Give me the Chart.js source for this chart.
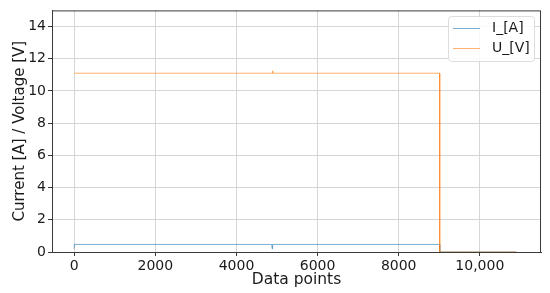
<!DOCTYPE html>
<html>
<head>
<meta charset="utf-8">
<script src="https://cdn.jsdelivr.net/npm/chart.js@4/dist/chart.umd.min.js"></script>
<style>
  html, body { margin: 0; padding: 0; background: #fff; }
  #wrap { width: 550px; height: 293px; }
</style>
</head>
<body>
<div id="wrap"><canvas id="myChart" width="550" height="293"></canvas></div>
<script>
// values
const currentX = [0, 1, 4870, 4880, 4890, 9010, 9011, 10900];
const currentY = [0.2, 0.47, 0.47, 0.2, 0.47, 0.47, 0, 0];
const voltageX = [0, 4880, 4890, 4900, 9010, 9011, 10900];
const voltageY = [11.1, 11.1, 11.25, 11.1, 11.1, 0, 0];

const xTickValues = [0, 2000, 4000, 6000, 8000, 10000];
const xTickLabels = ['0', '2000', '4000', '6000', '8000', '10,000'];
const yTickValues = [0, 2, 4, 6, 8, 10, 12, 14];
const seriesLabels = ['I_[A]', 'U_[V]'];

const FONT = "'DejaVu Sans', sans-serif";

function toPoints(xs, ys) {
    return xs.map((x, i) => ({ x: x, y: ys[i] }));
}

// draws the box around the plot area and the legend in the top right corner
const frameAndLegend = {
    id: 'frameAndLegend',
    afterDraw(chart) {
        const ctx = chart.ctx;
        const a = chart.chartArea;
        ctx.save();
        ctx.strokeStyle = '#3a3a3a';
        ctx.lineWidth = 1;
        ctx.strokeRect(a.left + 0.5, a.top + 0.5, a.right - a.left - 1, a.bottom - a.top);

        const boxX = 448, boxY = 16, boxW = 86, boxH = 45;
        ctx.fillStyle = 'rgba(255,255,255,0.85)';
        ctx.strokeStyle = '#dddddd';
        ctx.beginPath();
        ctx.roundRect(boxX + 0.5, boxY + 0.5, boxW, boxH, 3);
        ctx.fill();
        ctx.stroke();

        ctx.font = '14px ' + FONT;
        ctx.textBaseline = 'middle';
        chart.data.datasets.forEach((ds, i) => {
            const yy = 28 + i * 20;
            ctx.strokeStyle = ds.borderColor;
            ctx.lineWidth = 1;
            ctx.beginPath();
            ctx.moveTo(453, yy + 0.5);
            ctx.lineTo(480, yy + 0.5);
            ctx.stroke();
            ctx.fillStyle = '#1a1a1a';
            ctx.fillText(ds.label, 492, yy);
        });
        ctx.restore();
    }
};

const ctx = document.getElementById('myChart').getContext('2d');
const myChart = new Chart(ctx, {
    type: 'line',
    data: {
        datasets: [{
            label: seriesLabels[0],
            data: toPoints(currentX, currentY),
            borderColor: 'rgba(31,119,180,0.6)',
            borderWidth: 1,
            pointRadius: 0,
            tension: 0,
            order: 1
        }, {
            label: seriesLabels[1],
            data: toPoints(voltageX, voltageY),
            borderColor: 'rgba(255,127,14,0.6)',
            borderWidth: 1,
            pointRadius: 0,
            tension: 0,
            order: 0
        }]
    },
    options: {
        responsive: false,
        animation: false,
        devicePixelRatio: 1,
        layout: { padding: { top: 9, right: 9, left: 0, bottom: 0 } },
        plugins: {
            legend: { display: false },
            tooltip: { enabled: false }
        },
        scales: {
            x: {
                type: 'linear',
                min: -548,
                max: 11508,
                afterBuildTicks: scale => { scale.ticks = xTickValues.map(v => ({ value: v })); },
                afterFit: scale => { scale.height = 41; },
                ticks: {
                    color: '#1a1a1a',
                    font: { family: FONT, size: 14 },
                    padding: 2,
                    maxRotation: 0,
                    autoSkip: false,
                    callback: (value) => xTickLabels[xTickValues.indexOf(value)]
                },
                grid: { color: '#d6d6d6', lineWidth: 1, tickLength: 4, tickColor: '#3a3a3a' },
                border: { color: '#3a3a3a' },
                title: {
                    display: true,
                    text: 'Data points',
                    color: '#1a1a1a',
                    font: { family: FONT, size: 15.5 },
                    padding: { top: 0, bottom: 4 }
                }
            },
            y: {
                type: 'linear',
                min: 0,
                max: 15,
                afterBuildTicks: scale => { scale.ticks = yTickValues.map(v => ({ value: v })); },
                afterFit: scale => { scale.width = 52; },
                ticks: {
                    color: '#1a1a1a',
                    font: { family: FONT, size: 14 },
                    padding: 2,
                    autoSkip: false
                },
                grid: { color: '#d6d6d6', lineWidth: 1, tickLength: 4, tickColor: '#3a3a3a' },
                border: { color: '#3a3a3a' },
                title: {
                    display: true,
                    text: 'Current [A] / Voltage [V]',
                    color: '#1a1a1a',
                    font: { family: FONT, size: 15 },
                    padding: { top: 11, bottom: 0 }
                }
            }
        }
    },
    plugins: [frameAndLegend]
});
</script>
</body>
</html>
